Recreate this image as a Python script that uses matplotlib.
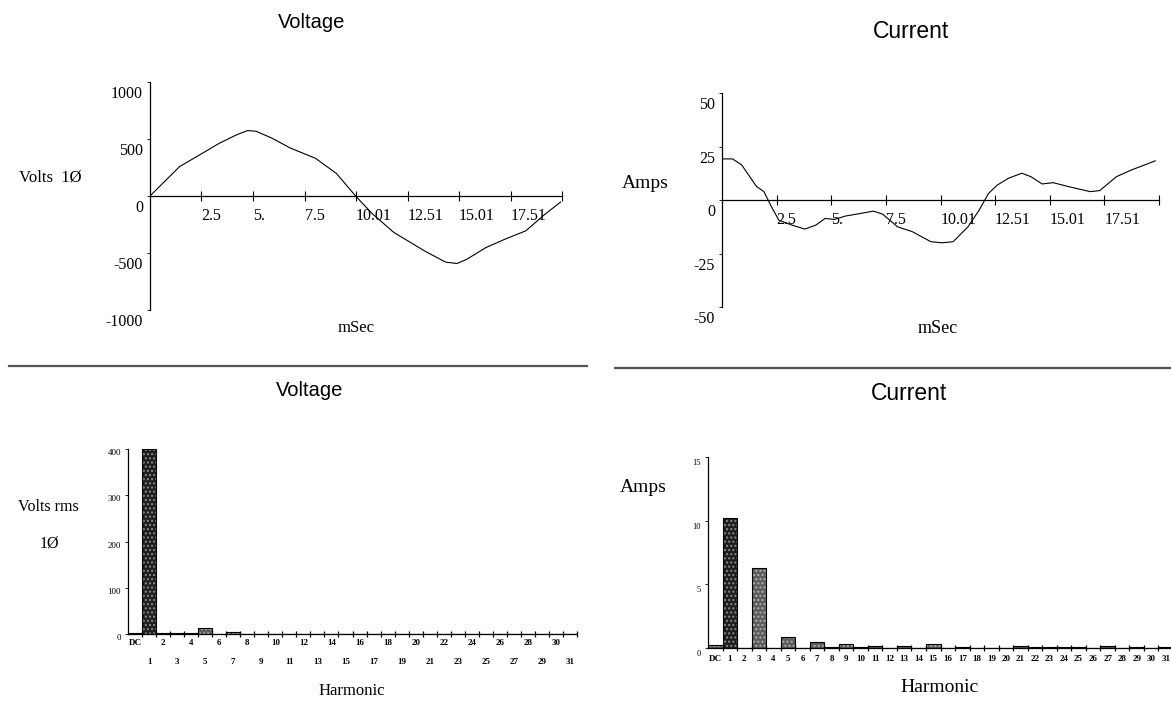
import numpy as np
import matplotlib
matplotlib.use("Agg")
import matplotlib.pyplot as plt
from matplotlib.lines import Line2D
from matplotlib.transforms import ScaledTranslation

# ---- data ----
# voltage waveform (ms, volts)
t_volt = [0, 1.43, 2.55, 3.38, 4.22, 4.74, 5.15, 5.9, 6.82, 8.03, 9.05, 9.98, 10.8,
          11.84, 13.33, 14.35, 14.9, 15.37, 16.3, 17.23, 18.25, 19.09, 19.93]
volts = [0, 257, 376, 464, 538, 574, 568, 509, 420, 331, 198, 0, -157,
         -320, -482, -580, -592, -556, -453, -379, -305, -172, -53]

# current waveform (ms, amps)
t_amp = [0, 0.48, 0.9, 1.58, 1.92, 2.26, 2.6, 3.19, 3.79, 4.3, 4.72, 5.14, 5.65, 6.33,
         6.93, 7.35, 8.03, 8.71, 9.56, 10.07, 10.58, 11.26, 11.77, 12.2, 12.6, 13.12,
         13.72, 14.14, 14.65, 15.16, 15.84, 16.86, 17.29, 18.05, 18.73, 19.83]
amps = [19.2, 19.2, 16.4, 6.3, 3.9, -3.1, -9.4, -11.7, -13.6, -11.7, -8.6, -9.1, -7.5, -6.3,
        -5.2, -6.6, -12.5, -14.8, -19.5, -20, -19.5, -12.5, -4.7, 3.1, 7, 10.2,
        12.5, 10.9, 7.5, 8.1, 6.3, 3.9, 4.4, 10.9, 14, 18.3]

time_ticks = [2.5, 5, 7.5, 10, 12.5, 15, 17.5, 20]
time_labels = ['2.5', '5.', '7.5', '10.01', '12.51', '15.01', '17.51', '']

# harmonic spectrum
harmonics = ['DC'] + [str(n) for n in range(1, 32)]
volt_rms = [2, 400, 2, 2, 2, 12, 1, 4, 1, 0.5, 1, 0.5, 1, 0.5, 0.5, 0.5,
            0.5, 0.5, 0.5, 0.5, 0.5, 1, 1, 1, 1, 1, 0.5, 0.5, 0.5, 0.5, 0.5, 0.5]
amp_rms = [0.25, 10.2, 0.02, 6.3, 0.02, 0.85, 0.02, 0.5, 0.05, 0.3, 0.05, 0.12, 0.02, 0.12,
           0.02, 0.35, 0.02, 0.05, 0.02, 0.02, 0.02, 0.12, 0.05, 0.05, 0.05, 0.05, 0.02,
           0.15, 0.02, 0.08, 0.02, 0.1]

SERIF = 'Liberation Serif'
SANS = 'Liberation Sans'
W, H = 1171, 701

fig = plt.figure(figsize=(11.71, 7.01), dpi=100)


def box(x0, x1, ytop, ybot):
    return [x0 / W, 1 - ybot / H, (x1 - x0) / W, (ybot - ytop) / H]


def ylab_shift(ax, dy_px):
    off = ScaledTranslation(0, -dy_px / 100, fig.dpi_scale_trans)
    for lab in ax.get_yticklabels():
        lab.set_transform(lab.get_transform() + off)


def wave_axes(ax, t, y, ylim, yticks):
    ax.plot(t, y, color='black', lw=0.8)
    ax.set_xlim(0, 20)
    ax.set_ylim(*ylim)
    for s in ['top', 'right']:
        ax.spines[s].set_visible(False)
    ax.spines['bottom'].set_position(('data', 0))
    ax.spines['left'].set_linewidth(0.9)
    ax.spines['bottom'].set_linewidth(0.9)
    ax.set_xticks(time_ticks)
    ax.set_xticklabels(time_labels, fontfamily=SERIF, fontsize=11.5, ha='left')
    ax.tick_params(axis='x', direction='inout', length=7, width=0.8, pad=5)
    ax.set_yticks(yticks)
    ax.set_yticklabels([str(v) for v in yticks], fontfamily=SERIF, fontsize=11.5)
    ax.tick_params(axis='y', direction='out', length=2, width=0.6, pad=3)
    ylab_shift(ax, 10)


def bar_axes(ax, vals, ymax, yticks, fs):
    x = np.arange(len(vals))
    face = ['#1e1e1e' if i == 1 else '#5c5c5c' for i in x]
    dots = ['#8a8a8a' if i == 1 else '#b0b0b0' for i in x]
    ax.bar(x, vals, width=1.0, color=face, edgecolor=dots, hatch='....', linewidth=0)
    ax.bar(x, vals, width=1.0, fill=False, edgecolor='black', linewidth=0.8)
    ax.set_xlim(-0.5, 31.5)
    ax.set_ylim(0, ymax)
    for s in ['top', 'right']:
        ax.spines[s].set_visible(False)
    ax.spines['left'].set_linewidth(0.9)
    ax.spines['bottom'].set_linewidth(0.9)
    ax.set_xticks(np.arange(0.5, 32, 1))
    ax.set_xticklabels([])
    ax.tick_params(axis='x', direction='inout', length=5, width=0.9)
    ax.set_yticks(yticks)
    ax.set_yticklabels([str(v) for v in yticks], fontfamily=SERIF, fontsize=fs)
    ax.tick_params(axis='y', direction='out', length=2, width=0.6, pad=3)


# ---- top left: voltage waveform ----
ax1 = fig.add_axes(box(150, 562, 82, 310))
wave_axes(ax1, t_volt, volts, (-1000, 1000), [-1000, -500, 0, 500, 1000])

# ---- top right: current waveform ----
ax2 = fig.add_axes(box(722, 1159, 93, 307))
wave_axes(ax2, t_amp, amps, (-50, 50), [-50, -25, 0, 25, 50])

# ---- bottom left: voltage harmonics ----
ax3 = fig.add_axes(box(128, 577, 449, 634))
bar_axes(ax3, volt_rms, 400, [0, 100, 200, 300, 400], 6.5)
ylab_shift(ax3, 3)
tr3 = ax3.get_xaxis_transform()
for i, lab in enumerate(harmonics):
    yy = -9 / 185 if (i == 0 or i % 2 == 0) else -28 / 185
    ax3.text(i, yy, lab, transform=tr3, ha='center', va='center',
             fontfamily=SERIF, fontsize=6.5, fontweight='bold')

# ---- bottom right: current harmonics ----
ax4 = fig.add_axes(box(708, 1173, 457, 648))
bar_axes(ax4, amp_rms, 15, [0, 5, 10, 15], 6)
ylab_shift(ax4, 5)
tr4 = ax4.get_xaxis_transform()
for i, lab in enumerate(harmonics):
    ax4.text(i, -11 / 191, lab, transform=tr4, ha='center', va='center',
             fontfamily=SERIF, fontsize=6.5, fontweight='bold')

# ---- titles and labels ----
def ftext(x, y, s, **kw):
    fig.text(x / W, 1 - y / H, s, ha='center', va='center', **kw)

ftext(312, 23, 'Voltage', fontfamily=SANS, fontsize=14.5)
ftext(911, 31, 'Current', fontfamily=SANS, fontsize=16.5)
ftext(310, 390, 'Voltage', fontfamily=SANS, fontsize=14.5)
ftext(909, 393, 'Current', fontfamily=SANS, fontsize=16.5)

ftext(50, 178, 'Volts  1Ø', fontfamily=SERIF, fontsize=12)
ftext(356, 328, 'mSec', fontfamily=SERIF, fontsize=12)
ftext(645, 183, 'Amps', fontfamily=SERIF, fontsize=14)
ftext(938, 328, 'mSec', fontfamily=SERIF, fontsize=13)

ftext(48, 507, 'Volts rms', fontfamily=SERIF, fontsize=11.5)
ftext(49, 543, '1Ø', fontfamily=SERIF, fontsize=11.5)
ftext(352, 691, 'Harmonic', fontfamily=SERIF, fontsize=12)
ftext(643, 487, 'Amps', fontfamily=SERIF, fontsize=14)
ftext(940, 688, 'Harmonic', fontfamily=SERIF, fontsize=14)

# separator rules between the rows
fig.add_artist(Line2D([9 / W, 587 / W], [1 - 366 / H] * 2, color='#555555', lw=1.6))
fig.add_artist(Line2D([615 / W, 1171 / W], [1 - 368 / H] * 2, color='#555555', lw=1.6))

fig.savefig('out.png', dpi=100)
